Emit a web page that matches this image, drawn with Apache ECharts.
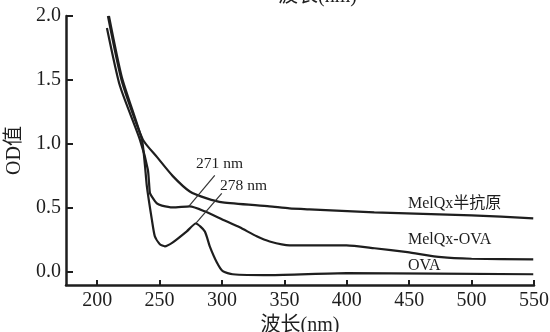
<!DOCTYPE html>
<html><head><meta charset="utf-8">
<script src="https://cdn.jsdelivr.net/npm/echarts@6/dist/echarts.min.js"></script>
<style>html,body{margin:0;padding:0;background:#fff}#c{width:550px;height:332px}</style>
</head><body><div id="c"></div>
<script>
var xTicks = [200, 250, 300, 350, 400, 450, 500, 550];
var yTicks = [0, 0.5, 1.0, 1.5, 2.0];
var seriesNames = ['MelQx半抗原', 'MelQx-OVA', 'OVA'];
var haptenX = [208.6, 219.8, 236.6, 247.8, 260.6, 274.2, 287.8, 300.6, 338, 354, 370, 422, 500, 549.4];
var haptenY = [2.0, 1.49, 1.035, 0.90, 0.75, 0.63, 0.576, 0.545, 0.514, 0.498, 0.49, 0.467, 0.444, 0.42];
var conjX = [207.8, 218.2, 234.2, 240.6, 242.2, 243.8, 247.8, 251.8, 260.6, 274.2, 286.2, 300.6, 314.2, 327.8, 338.2, 354.2, 399.8, 422.2, 448.6, 475.8, 500, 549.4];
var conjY = [1.907, 1.455, 1.035, 0.80, 0.62, 0.59, 0.537, 0.52, 0.506, 0.514, 0.475, 0.41, 0.35, 0.28, 0.24, 0.21, 0.21, 0.187, 0.156, 0.117, 0.105, 0.10];
var ovaX = [209.4, 219.8, 235.8, 238.2, 239.8, 243.8, 246.2, 250.2, 254.2, 260.6, 271.8, 279, 286.2, 290.2, 295.8, 300.6, 308.6, 338.2, 399.8, 549.4];
var ovaY = [2.0, 1.52, 1.035, 0.84, 0.67, 0.41, 0.28, 0.218, 0.202, 0.233, 0.319, 0.38, 0.319, 0.202, 0.078, 0.008, -0.016, -0.023, -0.008, -0.016];
var peakLabels = ['271 nm', '278 nm'];
var peakLines = [[[294.2, 0.755], [273.4, 0.514]], [[299.8, 0.615], [279, 0.381]]];

function zip(xs, ys) { return xs.map(function (x, i) { return [x, ys[i]]; }); }
var FONT = '"Liberation Serif", "Noto Sans CJK SC", serif';
var ink = '#1e1e1e';
var chart = echarts.init(document.getElementById('c'));
function lineSeries(name, data, extra) {
  var s = {
    name: name, type: 'line', data: data, showSymbol: false, smooth: 0.2,
    lineStyle: { color: ink, width: 2.2 }, z: 3
  };
  if (extra) for (var k in extra) s[k] = extra[k];
  return s;
}
chart.setOption({
  animation: false,
  backgroundColor: '#fff',
  grid: { left: 66, right: 16, top: 16, bottom: 47, containLabel: false, outerBoundsMode: 'none' },
  xAxis: {
    type: 'value', min: 175, max: 550,
    name: '波长(nm)', nameLocation: 'middle', nameGap: 26,
    nameTextStyle: { fontFamily: FONT, fontSize: 20, color: ink },
    axisLine: { onZero: false, lineStyle: { color: ink, width: 2.5 } },
    axisTick: { inside: true, length: 5, lineStyle: { color: ink, width: 2 }, customValues: xTicks },
    axisLabel: { fontFamily: FONT, fontSize: 20, color: ink, margin: 6, customValues: xTicks },
    splitLine: { show: false }
  },
  yAxis: {
    type: 'value', min: -0.1, max: 2.0,
    name: 'OD值', nameLocation: 'middle', nameGap: 40, nameRotate: 90,
    nameTextStyle: { fontFamily: FONT, fontSize: 20, color: ink },
    axisLine: { show: true, onZero: false, lineStyle: { color: ink, width: 2.5 } },
    axisTick: { show: true, inside: true, length: 7, lineStyle: { color: ink, width: 2 }, customValues: yTicks },
    axisLabel: { fontFamily: FONT, fontSize: 20, color: ink, margin: 5, customValues: yTicks,
      formatter: function (v) { return v.toFixed(1); } },
    splitLine: { show: false }
  },
  series: [
    lineSeries(seriesNames[0], zip(haptenX, haptenY), {
      markLine: {
        silent: true, symbol: 'none', label: { show: false },
        lineStyle: { color: '#333', width: 1.2, type: 'solid' },
        data: peakLines.map(function (p) { return [{ coord: p[0] }, { coord: p[1] }]; })
      }
    }),
    lineSeries(seriesNames[1], zip(conjX, conjY)),
    lineSeries(seriesNames[2], zip(ovaX, ovaY))
  ],
  graphic: [
    { type: 'text', left: 196, top: 156, style: { text: peakLabels[0], font: '15.5px ' + FONT, fill: ink } },
    { type: 'text', left: 220, top: 178, style: { text: peakLabels[1], font: '15.5px ' + FONT, fill: ink } },
    { type: 'text', left: 408, top: 196, style: { text: seriesNames[0], font: '16px ' + FONT, fill: ink } },
    { type: 'text', left: 408, top: 232, style: { text: seriesNames[1], font: '16px ' + FONT, fill: ink } },
    { type: 'text', left: 408, top: 258, style: { text: seriesNames[2], font: '16px ' + FONT, fill: ink } },
    { type: 'text', left: 278, top: -13, style: { text: '波长(nm)', font: '20px ' + FONT, fill: ink } }
  ]
});
</script></body></html>
